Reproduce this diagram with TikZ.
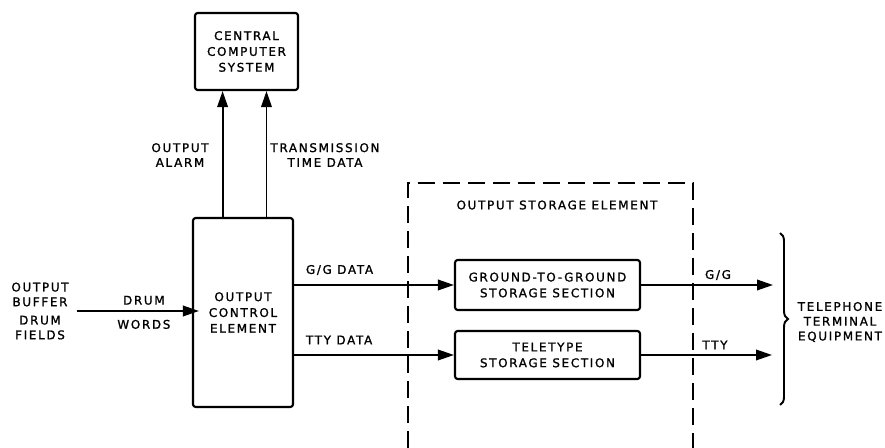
\documentclass[tikz,border=0pt]{standalone}
\usepackage{fontspec}
\newfontfamily\lettering[LetterSpace=14, FakeBold=1.2]{DejaVu Sans}
\usetikzlibrary{positioning,arrows.meta,calc,decorations.pathreplacing}

\begin{document}
\begin{tikzpicture}[x=0.02cm, y=-0.02cm, line width=1.1pt,
  font=\lettering\fontsize{6.8}{8.4}\selectfont,
  blk/.style={draw, line width=1.2pt, rounded corners=1.5pt, align=center, inner sep=0pt,
    font=\lettering\fontsize{6.8}{9}\selectfont},
  lbl/.style={align=center, inner sep=0pt},
  flow/.style={-{Triangle[length=3.2mm, width=2.1mm]}},
  frame/.style={dash pattern=on 3.4mm off 1.6mm}]
  \useasboundingbox (0,0) rectangle (885,448);
  % blocks
  \node[blk, minimum width=2.06cm, minimum height=1.54cm] (ccs) at (246.5,51.5) {CENTRAL\\COMPUTER\\SYSTEM};
  \node[blk, minimum width=2cm, minimum height=3.78cm] (oce) at (243,312.5) {OUTPUT\\CONTROL\\ELEMENT};
  \node[blk, minimum width=3.7cm, minimum height=1cm] (gg) at (547.5,285) {GROUND-TO-GROUND\\STORAGE SECTION};
  \node[blk, minimum width=3.7cm, minimum height=0.96cm] (tty) at (547.5,355) {TELETYPE\\STORAGE SECTION};
  % storage element frame, open at the bottom
  \draw[frame] (408,448) -- (408,183) -- (693,183) -- (693,448);
  \node[lbl] (ose) at (557,205) {OUTPUT STORAGE ELEMENT};
  % inputs
  \node[lbl] (buf) at (40,311) {OUTPUT\\BUFFER\\[2pt]DRUM\\FIELDS};
  \draw[flow] ([xshift=4pt]buf.east) -- ([xshift=4pt]buf.east -| oce.west)
    node[lbl, pos=0.55, above=3pt] (dw1) {DRUM}
    node[lbl, pos=0.55, below=4.5pt] (dw2) {WORDS};
  % to the central computer
  \coordinate (up1) at ($(oce.north west)!0.3!(oce.north east)$);
  \coordinate (up2) at ($(oce.north west)!0.73!(oce.north east)$);
  \draw[flow] (up1) -- (up1 |- ccs.south);
  \draw[flow] (up2) -- (up2 |- ccs.south);
  \node[lbl] (alarm) at (180,155) {OUTPUT\\ALARM};
  \node[lbl] (ttd) at (325,155) {TRANSMISSION\\TIME DATA};
  % to the storage sections
  \draw[flow] (oce.east |- gg.west) -- (gg.west);
  \draw[flow] (oce.east |- tty.west) -- (tty.west);
  \node[lbl, anchor=west] (ggd) at (305,270) {G/G DATA};
  \node[lbl, anchor=west] (ttyd) at (305,340) {TTY DATA};
  % outputs
  \coordinate (ggout) at (773,285);
  \coordinate (ttyout) at (772,355);
  \draw[flow] (gg.east) -- (ggout);
  \draw[flow] (tty.east) -- (ttyout);
  \node[lbl] (ggl) at (718,275) {G/G};
  \node[lbl] (ttyl) at (715,345) {TTY};
  \draw[decorate, decoration={brace, amplitude=0.16cm}] (780,233) -- (780,405);
  \node[lbl] (tte) at (840,322) {TELEPHONE\\TERMINAL\\EQUIPMENT};
\end{tikzpicture}
\end{document}
